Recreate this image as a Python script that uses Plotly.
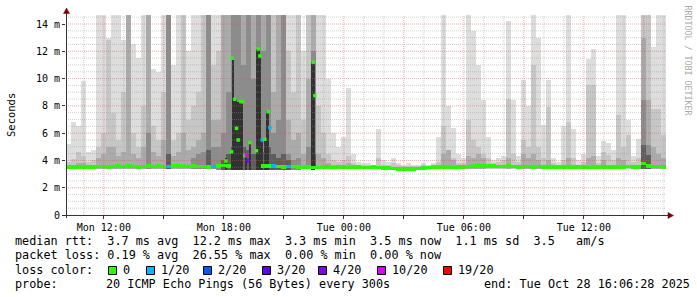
import pandas as pd
import plotly.graph_objects as go

# ---------------- data (values in ms) ----------------
start_time = "2025-10-27 10:06:28"
end_time = "2025-10-28 16:06:28"
bin_minutes = 15

# upper edges of the smoke layers (lightest = highest ping), 0 = layer absent
smoke_max = [5.2, 6.8, 6.5, 9.8, 4.6, 4.8, 14.7, 14.7, 13.0, 14.7,
             14.7, 12.8, 14.7, 12.5, 11.5, 14.7, 14.7, 10.7, 10.5, 14.7,
             14.7, 11.0, 14.7, 14.7, 12.0, 14.7, 14.7, 14.7, 14.7, 14.7,
             14.7, 14.7, 14.7, 14.7, 14.7, 14.7, 14.7, 14.7, 14.7, 14.7,
             14.7, 14.7, 14.7, 14.7, 14.7, 14.7, 14.7, 12.0, 14.7, 14.7,
             14.7, 14.7, 10.0, 6.0, 5.0, 5.7, 9.3, 4.5, 3.9, 3.8,
             3.8, 3.7, 6.3, 4.0, 3.9, 4.2, 3.8, 3.7, 3.8, 3.7,
             3.7, 3.8, 3.7, 3.8, 5.7, 14.7, 8.0, 6.4, 4.5, 4.2,
             14.7, 13.5, 11.0, 8.4, 5.7, 4.0, 4.2, 4.3, 14.2, 8.4,
             4.3, 9.9, 8.0, 14.7, 13.0, 6.6, 9.9, 4.2, 3.9, 6.5,
             14.7, 6.3, 4.0, 4.5, 11.4, 12.2, 4.3, 5.4, 5.3, 4.8,
             14.7, 14.7, 7.0, 4.3, 5.6, 14.7, 14.7, 12.3, 14.7, 14.7]
smoke_2 = [3.9, 4.1, 4.6, 4.3, 3.9, 4.0, 5.0, 6.0, 12.8, 7.5,
           5.5, 9.0, 14.7, 6.0, 5.0, 8.0, 14.7, 6.5, 5.5, 9.0,
           14.7, 5.5, 6.0, 14.7, 7.0, 8.0, 9.0, 14.7, 14.7, 11.0,
           12.0, 14.7, 14.7, 14.7, 14.7, 14.7, 14.7, 14.7, 14.7, 14.7,
           14.7, 14.7, 14.7, 14.7, 12.0, 9.0, 14.7, 7.0, 14.7, 14.7,
           8.0, 6.0, 4.5, 4.0, 3.9, 4.0, 4.3, 3.8, 3.7, 3.7,
           3.7, 3.7, 4.2, 3.7, 3.7, 3.8, 3.7, 3.6, 3.6, 3.6,
           3.6, 3.7, 3.6, 3.7, 3.9, 6.5, 4.8, 4.2, 3.8, 3.8,
           7.0, 5.5, 5.0, 4.5, 4.2, 3.8, 3.9, 4.0, 8.5, 4.5,
           3.9, 5.5, 5.0, 11.0, 5.0, 4.2, 7.9, 3.8, 3.7, 4.0,
           6.8, 4.2, 3.7, 3.9, 9.5, 9.5, 3.8, 4.6, 4.4, 4.0,
           7.3, 5.0, 5.9, 3.9, 4.2, 14.7, 14.7, 7.8, 7.8, 5.9]
smoke_3 = [3.7, 3.7, 3.8, 3.8, 3.7, 3.7, 4.2, 4.5, 5.0, 5.0,
           4.3, 4.6, 14.7, 4.5, 4.2, 5.0, 14.7, 4.6, 4.3, 5.5,
           14.7, 4.3, 4.6, 6.0, 4.8, 5.0, 5.5, 6.0, 14.7, 7.0,
           7.0, 14.7, 14.7, 14.7, 14.7, 14.7, 14.7, 14.7, 14.7, 14.7,
           14.7, 9.0, 14.7, 14.7, 7.0, 5.5, 6.0, 4.5, 10.0, 14.7,
           4.5, 4.2, 3.8, 3.7, 3.6, 3.6, 3.8, 0, 0, 0,
           0, 0, 0, 0, 0, 0, 0, 0, 0, 0,
           0, 0, 0, 0, 0, 4.5, 4.8, 4.0, 0, 0,
           4.3, 4.2, 4.5, 4.2, 0, 0, 0, 0, 4.2, 0,
           0, 4.5, 4.2, 4.5, 4.0, 0, 4.0, 0, 0, 0,
           4.2, 0, 0, 0, 4.2, 4.3, 0, 4.0, 0, 0,
           4.2, 4.0, 0, 0, 0, 13.0, 8.4, 5.0, 4.5, 4.2]
smoke_4 = [0, 0, 0, 0, 0, 0, 0, 0, 0, 0,
           0, 0, 0, 0, 0, 0, 6.0, 0, 0, 0,
           14.7, 0, 0, 0, 0, 4.2, 4.5, 4.6, 14.7, 5.0,
           5.0, 6.0, 9.0, 14.7, 14.7, 11.0, 14.7, 10.0, 14.7, 12.0,
           14.7, 6.0, 7.0, 14.7, 4.5, 4.0, 4.2, 0, 5.0, 12.0,
           0, 0, 0, 0, 0, 0, 0, 0, 0, 0,
           0, 0, 0, 0, 0, 0, 0, 0, 0, 0,
           0, 0, 0, 0, 0, 0, 0, 0, 0, 0,
           0, 0, 0, 0, 0, 0, 0, 0, 0, 0,
           0, 0, 0, 0, 0, 0, 0, 0, 0, 0,
           0, 0, 0, 0, 0, 0, 0, 0, 0, 0,
           0, 0, 0, 0, 0, 8.4, 5.1, 0, 0, 0]
smoke_5 = [0, 0, 0, 0, 0, 0, 0, 0, 0, 0,
           0, 0, 0, 0, 0, 0, 0, 0, 0, 0,
           4.5, 0, 0, 0, 0, 0, 0, 0, 4.8, 0,
           0, 4.0, 4.5, 5.0, 6.0, 5.0, 4.8, 4.5, 5.0, 4.6,
           5.0, 4.5, 4.2, 4.5, 4.0, 0, 0, 0, 0, 4.5,
           0, 0, 0, 0, 0, 0, 0, 0, 0, 0,
           0, 0, 0, 0, 0, 0, 0, 0, 0, 0,
           0, 0, 0, 0, 0, 0, 0, 0, 0, 0,
           0, 0, 0, 0, 0, 0, 0, 0, 0, 0,
           0, 0, 0, 0, 0, 0, 0, 0, 0, 0,
           0, 0, 0, 0, 0, 0, 0, 0, 0, 0,
           0, 0, 0, 0, 0, 5.1, 4.4, 0, 0, 0]
smoke_low = [3.38] * 30 + [3.27] * 17 + [3.36] * 19 + [3.27] * 7 + [3.36] * 47
median_ms = [3.52, 3.50, 3.52, 3.50, 3.52, 3.50, 3.55, 3.55, 3.52, 3.55,
             3.57, 3.55, 3.58, 3.55, 3.52, 3.55, 3.58, 3.55, 3.57, 3.55,
             3.55, 3.58, 3.60, 3.57, 3.55, 3.58, 3.55, 3.55, 3.52, 3.55,
             3.60, 3.62, 3.58, None, None, None, None, None, None, 3.58,
             3.60, 3.57, 3.55, 3.52, 3.55, 3.55, 3.52, 3.50, 3.50, 3.48,
             3.48, 3.50, 3.50, 3.48, 3.50, 3.50, 3.48, 3.50, 3.50, 3.48,
             3.48, 3.50, 3.48, 3.45, 3.45, 3.42, 3.38, 3.35, 3.35, 3.38,
             3.42, 3.45, 3.48, 3.50, 3.50, 3.52, 3.50, 3.48, 3.50, 3.52,
             3.55, 3.58, 3.60, 3.58, 3.60, 3.58, 3.55, 3.55, 3.57, 3.55,
             3.52, 3.55, 3.55, 3.52, 3.55, 3.50, 3.52, 3.52, 3.50, 3.50,
             3.52, 3.50, 3.52, 3.50, 3.48, 3.50, 3.52, 3.50, 3.50, 3.52,
             3.50, 3.52, 3.55, 3.52, 3.50, 3.78, 3.60, 3.55, 3.55, 3.52]
loss_count = [0] * 120
for i in (20, 29, 41, 44):
    loss_count[i] = 1

# darkest smoke columns (median far above baseline)
dark_times = ["2025-10-27 18:06", "2025-10-27 18:24", "2025-10-27 18:29", "2025-10-27 18:34",
              "2025-10-27 18:38", "2025-10-27 18:44", "2025-10-27 18:49", "2025-10-27 18:54",
              "2025-10-27 19:08", "2025-10-27 19:18", "2025-10-27 19:40", "2025-10-27 19:45",
              "2025-10-27 19:49", "2025-10-27 19:55", "2025-10-27 20:04", "2025-10-27 20:09",
              "2025-10-27 20:14", "2025-10-27 22:26", "2025-10-27 22:31"]
dark_tops = [4.2, 4.8, 11.5, 8.5, 8.5, 8.3, 8.3, 8.3, 4.5, 5.3, 12.2, 12.2, 11.6,
             5.5, 5.6, 7.6, 7.6, 11.2, 11.2]
dark_low = 3.3

# isolated high median readings
dot_times = ["2025-10-27 18:06", "2025-10-27 18:23", "2025-10-27 18:25", "2025-10-27 18:33",
             "2025-10-27 18:38", "2025-10-27 18:43", "2025-10-27 18:51", "2025-10-27 18:56",
             "2025-10-27 19:03", "2025-10-27 19:08", "2025-10-27 19:13", "2025-10-27 19:18",
             "2025-10-27 19:38", "2025-10-27 19:43", "2025-10-27 19:48", "2025-10-27 19:55",
             "2025-10-27 20:03", "2025-10-27 20:13", "2025-10-27 20:18", "2025-10-27 22:28",
             "2025-10-27 22:33"]
dot_vals = [3.96, 4.64, 11.49, 8.48, 6.35, 5.5, 8.31, 8.31, 4.35, 4.4, 3.98, 5.3,
            4.71, 12.17, 11.66, 5.5, 5.55, 7.57, 6.4, 11.2, 8.75]
dot_loss = [0, 0, 0, 0, 0, 0, 0, 0, 0, 10, 3, 0, 0, 0, 0, 1, 0, 0, 1, 0, 0]

loss_levels = [0, 1, 2, 3, 4, 10, 19]
loss_labels = ["0", "1/20", "2/20", "3/20", "4/20", "10/20", "19/20"]
loss_colors = ["#26ff00", "#00b8ff", "#0059ff", "#5e00ff", "#7e00ff", "#dd00ff", "#ff0000"]

y_ticks = [0, 2, 4, 6, 8, 10, 12, 14]
y_labels = ["0", "2 m", "4 m", "6 m", "8 m", "10 m", "12 m", "14 m"]
y_top = 14.66
x_ticks = ["2025-10-27 12:00", "2025-10-27 15:00", "2025-10-27 18:00", "2025-10-27 21:00",
           "2025-10-28 00:00", "2025-10-28 03:00", "2025-10-28 06:00", "2025-10-28 09:00",
           "2025-10-28 12:00", "2025-10-28 15:00"]
x_labels = ["Mon 12:00", "", "Mon 18:00", "", "Tue 00:00", "", "Tue 06:00", "", "Tue 12:00", ""]

rtt_line = "median rtt:  3.7 ms avg  12.2 ms max  3.3 ms min  3.5 ms now  1.1 ms sd  3.5   am/s"
loss_line = "packet loss: 0.19 % avg  26.55 % max  0.00 % min  0.00 % now"
probe_text = "20 ICMP Echo Pings (56 Bytes) every 300s"
end_text = "end: Tue Oct 28 16:06:28 2025"

# ---------------- figure ----------------
W, H = 697, 297
PL, PR, PT, PB = 66, 666, 15, 215
MONO = "DejaVu Sans Mono"


def px(x):
    return (x - PL) / (PR - PL)


def py(y):
    return (PB - y) / (PB - PT)


t0 = pd.Timestamp(start_time)
centers = [t0 + pd.Timedelta(minutes=bin_minutes * (i + 0.5)) for i in range(len(smoke_max))]
bw = bin_minutes * 60 * 1000

fig = go.Figure()
layer_colors = ["#dddddd", "#c6c6c6", "#ababab", "#8c8c8c", "#5e5e5e"]
for layer, col in zip([smoke_max, smoke_2, smoke_3, smoke_4, smoke_5], layer_colors):
    hs = [max(0.0, v - b) if v else 0.0 for v, b in zip(layer, smoke_low)]
    fig.add_trace(go.Bar(x=centers, y=hs, base=smoke_low, width=bw,
                         marker=dict(color=col, line=dict(width=0)), hoverinfo="skip"))

fig.add_trace(go.Bar(x=dark_times, y=[v - dark_low for v in dark_tops], base=dark_low,
                     width=5 * 60 * 1000, marker=dict(color="#323232", line=dict(width=0)),
                     hoverinfo="skip"))

# median as short horizontal segments coloured by loss
thick = 0.27
mx, mb, mc = [], [], []
for t, m, l in zip(centers, median_ms, loss_count):
    if m is None:
        continue
    mx.append(t)
    mb.append(m - thick / 2)
    mc.append(loss_colors[loss_levels.index(l)])
fig.add_trace(go.Bar(x=mx, y=[thick] * len(mx), base=mb, width=bw,
                     marker=dict(color=mc, line=dict(width=0)), hoverinfo="skip"))
fig.add_trace(go.Scatter(x=dot_times, y=dot_vals, mode="markers",
                         marker=dict(symbol="square", size=3.5,
                                     color=[loss_colors[loss_levels.index(l)] for l in dot_loss],
                                     line=dict(width=0)), hoverinfo="skip"))

shapes = []
# grid (drawn above the smoke, as rrdtool does)
gray = "rgba(143,143,143,0.42)"
red = "rgba(222,80,80,0.48)"
for h in pd.date_range("2025-10-27 11:00", "2025-10-28 16:00", freq="1h"):
    shapes.append(dict(type="line", xref="x", yref="paper", x0=h, x1=h, y0=0, y1=1,
                       line=dict(color=red if h.hour % 3 == 0 else gray, width=1, dash="1px,1px"),
                       layer="above"))
v = 0.5
while v < y_top:
    major = abs(v / 2 - round(v / 2)) < 1e-9
    shapes.append(dict(type="line", xref="paper", yref="y", x0=0, x1=1, y0=v, y1=v,
                       line=dict(color=red if major else gray, width=1, dash="1px,1px"),
                       layer="above"))
    v += 0.5

axis_col = "#333333"
shapes.append(dict(type="line", xref="paper", yref="paper", x0=px(66.5), x1=px(66.5),
                   y0=py(218), y1=py(12), line=dict(color=axis_col, width=1), layer="above"))
shapes.append(dict(type="line", xref="paper", yref="paper", x0=px(63), x1=px(669),
                   y0=py(215.5), y1=py(215.5), line=dict(color=axis_col, width=1), layer="above"))
arrow = "#7f0000"
shapes.append(dict(type="path", xref="paper", yref="paper",
                   path=f"M {px(63.5)} {py(13.5)} L {px(69.5)} {py(13.5)} L {px(66.5)} {py(8)} Z",
                   fillcolor=arrow, line=dict(color=arrow, width=0.5), layer="above"))
shapes.append(dict(type="path", xref="paper", yref="paper",
                   path=f"M {px(668)} {py(212.5)} L {px(668)} {py(218.5)} L {px(673.5)} {py(215.5)} Z",
                   fillcolor=arrow, line=dict(color=arrow, width=0.5), layer="above"))

annotations = []


def text(x, y, s, size=11.8, anchor="left", angle=0, color="#000000"):
    annotations.append(dict(xref="paper", yref="paper", x=px(x), y=py(y),
                            text=s.replace(" ", "\u00a0"), showarrow=False,
                            xanchor=anchor, yanchor="middle", textangle=angle,
                            font=dict(family=MONO, size=size, color=color), borderpad=0))


text(14, 241, rtt_line)
text(14, 255, loss_line)
text(14, 269.5, "loss color:")
box_x = [108, 146, 203, 262, 318, 377, 443]
for bx, lab, col in zip(box_x, loss_labels, loss_colors):
    shapes.append(dict(type="rect", xref="paper", yref="paper", x0=px(bx + 0.5), x1=px(bx + 8.5),
                       y0=py(274.5), y1=py(266.5), fillcolor=col,
                       line=dict(color="#000000", width=1)))
    text(bx + 14, 269.5, lab)
text(14, 283.5, "probe:")
text(105, 283.5, probe_text)
text(483, 283.5, end_text)
text(11, 115, "Seconds", size=10.5, anchor="center", angle=-90)
text(687.5, 60, "RRDTOOL / TOBI OETIKER", size=8.3, anchor="center", angle=90, color="#aaaaaa")

fig.update_layout(
    width=W, height=H,
    margin=dict(l=PL, r=W - PR, t=PT, b=H - PB),
    paper_bgcolor="#ffffff", plot_bgcolor="#ffffff",
    barmode="overlay", bargap=0, showlegend=False,
    shapes=shapes, annotations=annotations,
    xaxis=dict(type="date", range=[start_time, end_time], showgrid=False, zeroline=False,
               showline=False, tickvals=x_ticks, ticktext=x_labels, ticks="outside",
               ticklen=3, tickcolor=axis_col, tickfont=dict(family=MONO, size=10, color="#000000")),
    yaxis=dict(range=[0, y_top], showgrid=False, zeroline=False, showline=False,
               tickvals=y_ticks, ticktext=y_labels, ticks="outside", ticklen=3,
               tickcolor=axis_col, tickfont=dict(family=MONO, size=10, color="#000000")),
)

fig.write_html("out.html")
